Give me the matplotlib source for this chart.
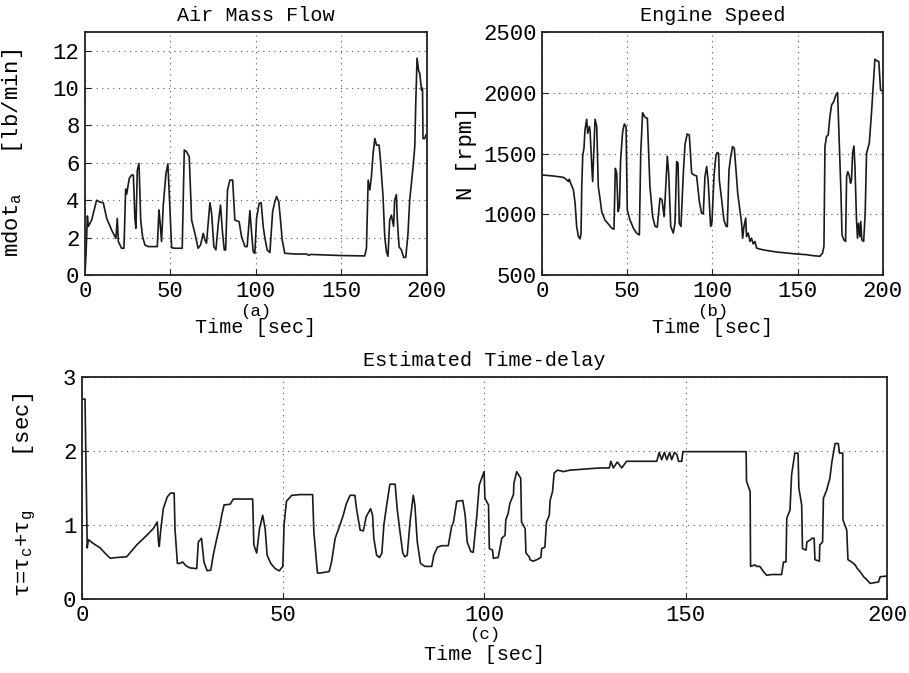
import numpy as np
import matplotlib
matplotlib.use('Agg')
import matplotlib.pyplot as plt

plt.rcParams['font.family'] = ['Liberation Mono', 'DejaVu Sans Mono']
plt.rcParams['mathtext.fontset'] = 'custom'
plt.rcParams['mathtext.rm'] = 'Liberation Mono'
plt.rcParams['mathtext.it'] = 'Liberation Mono'
plt.rcParams['mathtext.bf'] = 'Liberation Mono:bold'

# (a) air mass flow [lb/min]
t_air = [0, 0.6, 1.4, 1.95, 3.9, 5.85, 6.8, 8.8, 10.7, 12.7, 15.6, 18.1, 18.9, 19.5,
         21.4, 22.8, 23.8, 24.4, 25.9, 27.3, 28.3, 29.2, 29.8, 30.6, 31.6, 32.6, 33.7,
         35.1, 37.0, 42.3, 43.3, 43.9, 44.8, 45.8, 47.4, 48.5, 49.3, 50.7, 52.6, 56.9,
         58.1, 59.4, 61.0, 62.4, 64.3, 66.2, 67.6, 69.2, 70.2, 71.1, 73.1, 74.1, 75.4,
         76.6, 78.0, 79.3, 80.5, 81.5, 82.3, 83.4, 84.8, 86.4, 87.7, 90.2, 91.6, 93.6,
         94.9, 96.5, 97.5, 98.4, 99.4, 100.4, 101.9, 103.1, 104.3, 105.3, 106.6, 108.2,
         109.8, 111.1, 112.1, 113.4, 114.4, 115.4, 116.9, 123.8, 129.7, 131.0, 132.0,
         143.3, 150.0, 163.7, 164.7, 165.7, 166.7, 167.6, 168.6, 169.6, 170.6, 172.1,
         172.9, 174.4, 175.4, 176.4, 177.3, 178.3, 179.3, 180.6, 181.2, 182.2, 182.8,
         183.8, 185.1, 186.5, 187.7, 189.0, 190.0, 192.0, 193.0, 193.5, 194.3, 195.3,
         195.9, 196.9, 197.5, 197.8, 198.8, 199.5, 200.0]
m_air = [0.1, 1.1, 3.16, 2.6, 2.94, 3.65, 4.0, 3.9, 3.87, 3.03, 2.4, 1.96, 3.03, 1.79,
         1.43, 1.43, 4.6, 4.33, 5.17, 5.35, 5.35, 3.03, 2.5, 5.6, 5.97, 2.94, 2.05,
         1.6, 1.52, 1.52, 3.48, 2.85, 1.79, 3.74, 5.44, 5.94, 4.37, 1.46, 1.43, 1.43,
         6.69, 6.6, 6.33, 2.94, 2.23, 1.43, 1.6, 2.23, 1.87, 1.7, 3.87, 3.3, 1.52,
         1.34, 2.76, 3.74, 2.23, 1.34, 1.34, 4.55, 5.08, 5.08, 2.94, 2.85, 2.05, 1.52,
         1.52, 3.44, 2.23, 1.25, 1.16, 3.03, 3.83, 3.87, 2.58, 1.96, 1.34, 1.2,
         3.39, 3.92, 4.2, 3.92, 2.94, 1.87, 1.16, 1.12, 1.12, 1.05, 1.1,
         1.06, 1.04, 1.02, 1.43, 5.08, 4.55, 5.26, 6.5, 7.3, 6.95, 6.95,
         6.15, 4.2, 2.05, 1.24, 1.0, 2.94, 3.2, 2.6, 4.0, 4.3, 2.9,
         1.5, 1.35, 0.94, 0.94, 2.2, 4.0, 5.8, 6.9, 9.0, 11.6, 10.9,
         10.8, 9.9, 10.0, 7.3, 7.3, 7.5, 7.5]

# (b) engine speed [rpm]
t_rpm = [0, 6.6, 12.5, 14.1, 15.5, 16.0, 16.8, 18.4, 19.4, 20.3, 21.3, 22.3, 22.9, 23.3,
         23.9, 24.6, 25.2, 26.2, 26.8, 27.8, 28.2, 29.1, 29.7, 30.5, 31.1, 32.1, 33.0,
         34.0, 35.0, 36.9, 38.9, 40.9, 42.2, 43.0, 43.8, 44.6, 45.4, 46.1, 47.3, 48.3,
         49.3, 50.0, 51.6, 53.6, 55.5, 57.1, 57.9, 59.0, 60.4, 61.8, 63.3, 64.9, 66.3,
         67.6, 69.2, 70.4, 71.6, 72.3, 73.5, 74.3, 75.5, 77.0, 78.0, 79.0, 79.8, 80.5,
         81.5, 82.9, 83.9, 85.2, 86.4, 87.8, 89.2, 90.7, 92.3, 93.6, 94.6, 95.6, 96.6,
         97.5, 98.9, 99.7, 100.9, 102.0, 102.8, 103.6, 104.0, 105.4, 106.7, 107.9,
         108.7, 109.7, 110.7, 111.8, 112.8, 113.8, 114.8, 116.1, 117.1, 117.7, 118.5,
         119.5, 120.0, 121.0, 122.0, 122.9, 123.9, 124.9, 125.9, 127.8, 131.7, 137.6,
         143.5, 149.3, 155.2, 159.1, 163.0, 164.6, 165.4, 166.0, 166.9, 167.9, 168.9,
         169.9, 171.2, 172.4, 173.4, 174.4, 175.4, 176.0, 177.1, 178.1, 178.7, 179.4,
         180.2, 181.0, 181.6, 182.2, 183.0, 183.6, 184.5, 185.1, 185.7, 186.5, 187.0,
         187.6, 188.7, 189.6, 190.4, 192.0, 193.3, 194.3, 195.3, 196.3, 197.6, 198.6,
         200.0]
n_rpm = [1323, 1315, 1304, 1288, 1269, 1288, 1255, 1201, 1091, 900, 818, 797, 845, 1228,
         1489, 1543, 1694, 1782, 1667, 1722, 1680, 1420, 1269, 1557, 1782, 1722, 1228,
         1132, 1022, 953, 920, 885, 877, 1378, 1337, 1022, 1063, 1447, 1680, 1743,
         1722, 1036, 953, 885, 844, 830, 1500, 1836, 1798, 1790, 1228, 981, 900,
         894, 1132, 1118, 981, 1146, 1478, 1337, 900, 845, 926, 1433, 1420, 926,
         900, 1337, 1578, 1661, 1653, 1337, 1323, 1315, 1104, 1008, 1003, 1310, 1392,
         1269, 900, 933, 1318, 1476, 1508, 1502, 1283, 1118, 953, 904,
         898, 1365, 1474, 1557, 1543, 1365, 1173, 1036, 926, 803, 900,
         968, 816, 845, 776, 803, 756, 776, 721, 713, 702, 689,
         681, 673, 667, 659, 654, 681, 736, 1557, 1640, 1653, 1804,
         1900, 1928, 1983, 2002, 1585, 1173, 830, 789, 776, 1310, 1351,
         1323, 1255, 1283, 1502, 1562, 1392, 953, 803, 926, 816, 940,
         789, 776, 1008, 1502, 1585, 1832, 2051, 2276, 2265, 2257, 2024,
         2010]

# (c) estimated time-delay [sec]
t_tau = [0, 0.75, 1.3, 1.6, 2.8, 4.5, 5.7, 7.0, 8.6, 11.1, 13.6, 16.1, 17.7, 18.7, 19.0,
         19.2, 19.5, 20.2, 21.2, 22.0, 22.9, 23.1, 23.7, 24.3, 25.0, 25.8, 26.8, 28.5,
         28.9, 29.7, 30.3, 31.1, 32.0, 32.6, 33.5, 34.3, 34.7, 35.3, 36.8, 37.6, 40.1,
         42.4, 42.7, 43.4, 44.1, 44.9, 45.5, 46.0, 46.9, 48.0, 49.0, 49.9, 50.2, 50.8,
         51.3, 52.1, 54.2, 57.3, 57.6, 58.5, 59.1, 61.4, 62.0, 62.9, 64.1, 64.9, 65.7,
         66.6, 67.8, 68.2, 69.1, 69.9, 70.6, 71.1, 71.7, 72.2, 72.5, 73.2, 73.9, 74.5,
         75.0, 75.7, 76.5, 77.8, 78.3, 79.0, 79.7, 80.2, 80.8, 81.5, 82.3, 82.7, 83.3,
         84.1, 85.2, 86.9, 87.4, 88.3, 89.4, 91.0, 91.8, 92.3, 93.1, 94.6, 95.2, 95.7,
         96.6, 97.2, 98.1, 98.7, 99.9, 100.1, 101.0, 101.2, 102.0, 102.2, 103.4, 104.3,
         105.1, 105.3, 105.9, 106.3, 107.2, 107.3, 108.0, 109.0, 109.2, 110.1, 110.3,
         111.1, 111.3, 112.1, 113.0, 114.0, 114.2, 115.0, 115.4, 116.1, 116.3, 116.9,
         117.3, 118.1, 119.0, 119.6, 121.2, 123.7, 126.2, 128.7, 131.0, 131.4, 132.0,
         133.0, 134.1, 135.3, 138.6, 142.8, 143.4, 144.0, 144.7, 145.3, 146.0, 146.5,
         147.2, 147.8, 148.2, 149.0, 149.3, 152.7, 156.9, 165.0, 165.1, 166.0, 166.1,
         167.2, 167.6, 168.4, 169.3, 170.1, 171.3, 173.8, 174.3, 174.9, 175.1, 175.9,
         176.3, 177.1, 177.9, 178.1, 178.8, 179.0, 179.9, 180.1, 181.0, 181.3, 181.9,
         182.1, 183.2, 183.3, 184.0, 184.2, 185.0, 185.8, 186.3, 187.1, 187.9, 188.2,
         189.0, 189.05, 190.0, 190.3, 191.2, 192.1, 192.5, 193.3, 194.2, 195.0, 195.8,
         197.9, 198.3, 200.0]
tau = [2.70, 2.70, 0.69, 0.80, 0.75, 0.69, 0.62, 0.55, 0.56, 0.57, 0.73, 0.86, 0.95, 1.04, 0.77,
       0.71, 0.90, 1.22, 1.38, 1.43, 1.43, 0.95, 0.48, 0.48, 0.50, 0.45, 0.42, 0.41,
       0.77, 0.82, 0.50, 0.38, 0.39, 0.59, 0.82, 1.0, 1.13, 1.27, 1.28, 1.35, 1.35,
       1.35, 0.73, 0.62, 0.95, 1.13, 0.95, 0.59, 0.48, 0.41, 0.38, 0.44, 1.0, 1.32,
       1.35, 1.40, 1.41, 1.41, 0.91, 0.35, 0.35, 0.37, 0.50, 0.82, 1.0, 1.13, 1.29,
       1.40, 1.40, 1.22, 0.93, 0.92, 1.11, 1.16, 1.22, 1.13, 0.82, 0.59, 0.56, 0.62,
       1.0, 1.27, 1.55, 1.55, 1.22, 0.91, 0.62, 0.57, 0.59, 1.04, 1.40, 1.27, 0.77,
       0.48, 0.44, 0.44, 0.59, 0.70, 0.72, 0.72, 0.97, 1.04, 1.32, 1.33, 1.13, 0.77,
       0.64, 0.63, 1.13, 1.54, 1.72, 1.36, 1.27, 0.68, 0.66, 0.55, 0.56, 0.82,
       0.86, 1.07, 1.16, 1.29, 1.41, 1.56, 1.72, 1.63, 1.04, 0.95, 0.62,
       0.57, 0.53, 0.51, 0.53, 0.56, 0.68, 0.70, 1.04, 1.13, 1.33, 1.45,
       1.70, 1.74, 1.73, 1.72, 1.74, 1.75, 1.76, 1.77, 1.77, 1.86, 1.77,
       1.85, 1.77, 1.86, 1.86, 1.86, 1.98, 1.88, 1.98, 1.88, 1.98, 1.88,
       1.98, 1.95, 1.86, 1.86, 1.99, 1.99, 1.99, 1.99, 1.59, 1.45, 0.44,
       0.46, 0.44, 0.44, 0.37, 0.32, 0.33, 0.33, 0.50, 0.50, 1.09, 1.20,
       1.68, 1.97, 1.97, 1.50, 1.27, 0.68, 0.66, 0.77, 0.80, 0.82, 0.82,
       0.53, 0.51, 0.73, 0.77, 1.36, 1.47, 1.63, 1.85, 2.10, 2.10, 1.97,
       1.97, 1.07, 0.93, 0.53, 0.50, 0.46, 0.42, 0.37, 0.30, 0.26, 0.21,
       0.23, 0.30, 0.31]

fig = plt.figure(figsize=(9.09, 6.73), dpi=100)
ax1 = fig.add_axes([0.0935, 0.5914, 0.376, 0.361])
ax2 = fig.add_axes([0.5963, 0.5914, 0.375, 0.361])
ax3 = fig.add_axes([0.0902, 0.110, 0.8856, 0.330])

ax1.plot(t_air, m_air, color='#1a1a1a', lw=1.2)
ax2.plot(t_rpm, n_rpm, color='#1a1a1a', lw=1.2)
ax3.plot(t_tau, tau, color='#1a1a1a', lw=1.2)

for ax in (ax1, ax2, ax3):
    ax.set_xlim(0, 200)
    ax.set_xticks([0, 50, 100, 150, 200])
    ax.grid(True, linestyle=(0, (1, 4)), color='#555555', lw=0.8)
    ax.tick_params(direction='in', length=4, labelsize=16, pad=4, color='#222222')
    for s in ax.spines.values():
        s.set_linewidth(1.3)
        s.set_color('#222222')

ax1.set_ylim(0, 13)
ax1.set_yticks(range(0, 13, 2))
ax2.set_ylim(500, 2500)
ax2.set_yticks(range(500, 2501, 500))
ax3.set_ylim(0, 3)
ax3.set_yticks([0, 1, 2, 3])

ax1.set_title('Air Mass Flow', fontsize=14.5, pad=8)
ax2.set_title('Engine Speed', fontsize=14.5, pad=8)
ax3.set_title('Estimated Time-delay', fontsize=14.5, pad=8)

ax1.set_ylabel('mdot$_a$   [lb/min]', fontsize=16)
ax1.yaxis.set_label_coords(-0.175, 0.5)
ax2.set_ylabel('N [rpm]', fontsize=16)
ax2.yaxis.set_label_coords(-0.19, 0.5)
ax3.set_ylabel('τ=τ$_c$+τ$_g$    [sec]', fontsize=16)
ax3.yaxis.set_label_coords(-0.055, 0.47)

for ax, tag, y1, y2 in ((ax1, '(a)', -0.152, -0.218), (ax2, '(b)', -0.152, -0.218),
                        (ax3, '(c)', -0.162, -0.252)):
    ax.text(0.5, y1, tag, transform=ax.transAxes, ha='center', va='center', fontsize=12.5)
    ax.text(0.5, y2, 'Time [sec]', transform=ax.transAxes, ha='center', va='center', fontsize=14.5)

fig.savefig('out.png', dpi=100)
